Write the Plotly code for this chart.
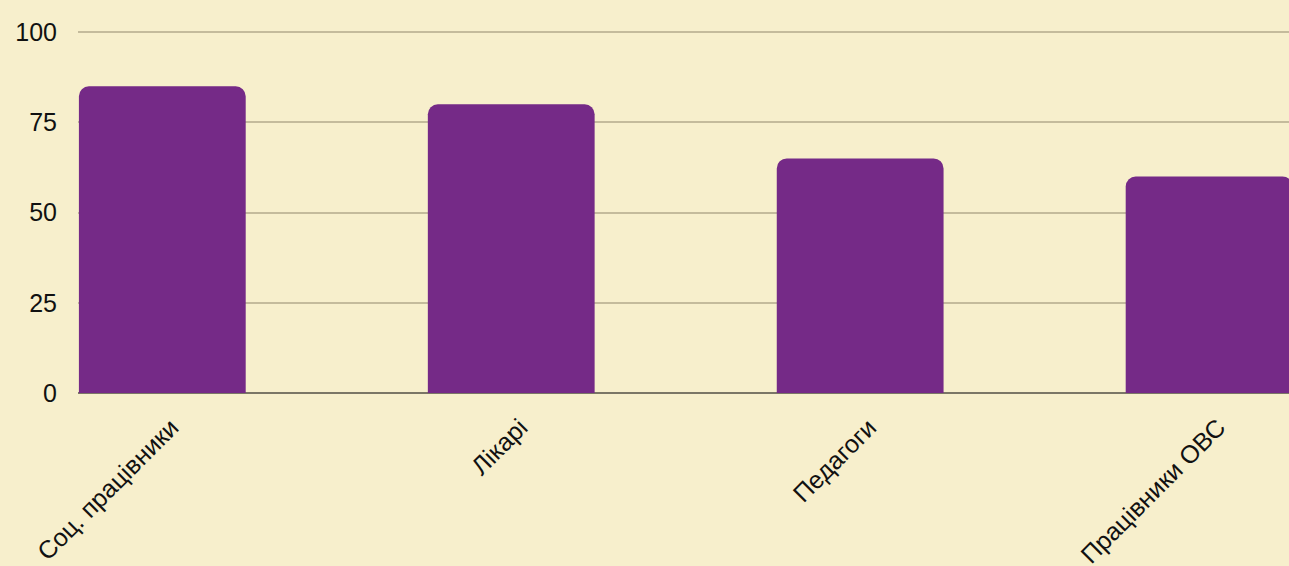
import plotly.graph_objects as go

categories = ["Соц. працівники", "Лікарі", "Педагоги", "Працівники ОВС"]
values = [85, 80, 65, 60]
y_ticks = [0, 25, 50, 75, 100]

BG = "#F7EFCC"
BAR = "#752A87"

fig = go.Figure(
    go.Bar(
        x=categories,
        y=values,
        marker=dict(color=BAR, cornerradius=10, line=dict(width=0)),
        width=0.478,
        hoverinfo="x+y",
    )
)

fig.update_layout(
    width=1289,
    height=566,
    paper_bgcolor=BG,
    plot_bgcolor=BG,
    margin=dict(l=78, r=0, t=31, b=173),
    font=dict(family="Liberation Sans, Arial, sans-serif", size=25, color="#111111"),
    showlegend=False,
)

fig.update_xaxes(
    range=[-0.2416, 3.229],
    tickangle=-45,
    showgrid=False,
    showline=False,
    ticks="",
    ticklabelstandoff=14,
    ticklabelshift=9,
    tickfont=dict(size=25),
    automargin=False,
)
fig.update_yaxes(
    range=[0, 100.3],
    tickvals=y_ticks,
    ticktext=[str(v) for v in y_ticks],
    showgrid=True,
    gridcolor="#C4BB9C",
    gridwidth=1.5,
    zeroline=True,
    zerolinecolor="#7B7666",
    zerolinewidth=2,
    ticks="",
    ticklabelstandoff=20,
    tickfont=dict(size=25),
    automargin=False,
)

fig.write_html("out.html")
